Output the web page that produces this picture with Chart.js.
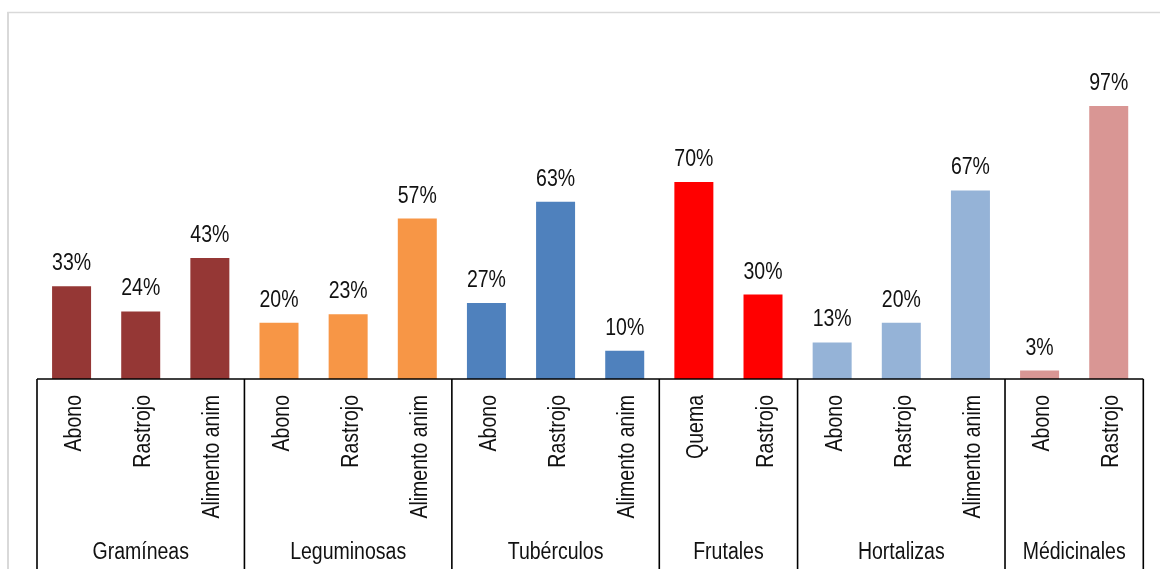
<!DOCTYPE html>
<html lang="es">
<head>
<meta charset="utf-8">
<title>Destino de los residuos por tipo de cultivo</title>
<script src="https://cdn.jsdelivr.net/npm/chart.js@4/dist/chart.umd.min.js"></script>
<style>
  html, body { margin: 0; padding: 0; background: #ffffff; }
  #wrap { width: 1160px; height: 569px; position: relative; }
  canvas { display: block; }
</style>
</head>
<body>
<div id="wrap"><canvas id="chart" width="1160" height="569"></canvas></div>
<script>
// Uses per crop group (percent of respondents)
const categories = [
  'Abono', 'Rastrojo', 'Alimento anim',
  'Abono', 'Rastrojo', 'Alimento anim',
  'Abono', 'Rastrojo', 'Alimento anim',
  'Quema', 'Rastrojo',
  'Abono', 'Rastrojo', 'Alimento anim',
  'Abono', 'Rastrojo'
];
const values = [33, 24, 43, 20, 23, 57, 27, 63, 10, 70, 30, 13, 20, 67, 3, 97];

const groupNames = ['Gramíneas', 'Leguminosas', 'Tubérculos', 'Frutales', 'Hortalizas', 'Médicinales'];
const groupSizes = [3, 3, 3, 2, 3, 2];
const groupColors = ['#953735', '#F79646', '#4F81BD', '#FF0000', '#95B3D7', '#D99694'];

// one colour per bar, taken from its group
const barColors = [];
groupSizes.forEach((n, g) => { for (let i = 0; i < n; i++) barColors.push(groupColors[g]); });

const FONT = '"Liberation Sans", Arial, sans-serif';
const FONT_SIZE = 23.5;
const NARROW = 0.83;   // horizontal squeeze to get a narrow face
const TEXT_COLOR = '#111111';

function narrowText(ctx, text, x, y, angle, align) {
  ctx.save();
  ctx.translate(x, y);
  if (angle) ctx.rotate(angle);
  ctx.scale(NARROW, 1);
  ctx.textAlign = align;
  ctx.textBaseline = 'alphabetic';
  ctx.fillText(text, 0, 0);
  ctx.restore();
}

// white background with the light frame
const framePlugin = {
  id: 'frame',
  beforeDraw(chart) {
    const ctx = chart.ctx;
    ctx.save();
    ctx.fillStyle = '#ffffff';
    ctx.fillRect(0, 0, chart.width, chart.height);
    ctx.strokeStyle = '#d9d9d9';
    ctx.lineWidth = 1.5;
    ctx.beginPath();
    ctx.moveTo(8, chart.height + 2);
    ctx.lineTo(8, 12.5);
    ctx.lineTo(chart.width + 2, 12.5);
    ctx.stroke();
    ctx.lineWidth = 2;
    ctx.beginPath();
    ctx.moveTo(8, chart.height + 2);
    ctx.lineTo(8, 12);
    ctx.stroke();
    ctx.restore();
  }
};

// two-level category axis, group dividers and value labels
const axisPlugin = {
  id: 'groupAxis',
  afterDraw(chart) {
    const ctx = chart.ctx;
    const xs = chart.scales.x;
    const ys = chart.scales.y;
    const n = categories.length;
    const step = (xs.right - xs.left) / n;
    const base = ys.getPixelForValue(0);
    const bottom = chart.height + 2;

    ctx.save();
    ctx.strokeStyle = '#000000';
    ctx.lineWidth = 1.6;

    // baseline
    ctx.beginPath();
    ctx.moveTo(xs.left, base);
    ctx.lineTo(xs.right, base);
    ctx.stroke();

    // group dividers
    let idx = 0;
    const bounds = [0];
    groupSizes.forEach(s => { idx += s; bounds.push(idx); });
    ctx.beginPath();
    bounds.forEach(b => {
      const x = xs.left + b * step;
      ctx.moveTo(x, base);
      ctx.lineTo(x, bottom);
    });
    ctx.stroke();

    ctx.fillStyle = TEXT_COLOR;
    ctx.font = FONT_SIZE + 'px ' + FONT;

    // rotated category labels
    categories.forEach((c, i) => {
      const cx = xs.getPixelForValue(i);
      narrowText(ctx, c, cx + 9.5, 395, -Math.PI / 2, 'right');
    });

    // group labels
    for (let g = 0; g < groupNames.length; g++) {
      const x0 = xs.left + bounds[g] * step;
      const x1 = xs.left + bounds[g + 1] * step;
      narrowText(ctx, groupNames[g], (x0 + x1) / 2, 559, 0, 'center');
    }

    // value labels above the bars
    const meta = chart.getDatasetMeta(0);
    meta.data.forEach((bar, i) => {
      narrowText(ctx, values[i] + '%', bar.x, bar.y - 16, 0, 'center');
    });
    ctx.restore();
  }
};

new Chart(document.getElementById('chart'), {
  type: 'bar',
  data: {
    labels: categories,
    datasets: [{
      data: values,
      backgroundColor: barColors,
      borderWidth: 0,
      barPercentage: 0.564,
      categoryPercentage: 1.0
    }]
  },
  options: {
    responsive: false,
    animation: false,
    devicePixelRatio: 1,
    layout: { padding: { left: 37, right: 16.7, top: 41.3, bottom: 190 } },
    plugins: { legend: { display: false }, tooltip: { enabled: false } },
    scales: {
      x: { display: false, offset: true },
      y: { display: false, min: 0, max: 120 }
    }
  },
  plugins: [framePlugin, axisPlugin]
});
</script>
</body>
</html>
